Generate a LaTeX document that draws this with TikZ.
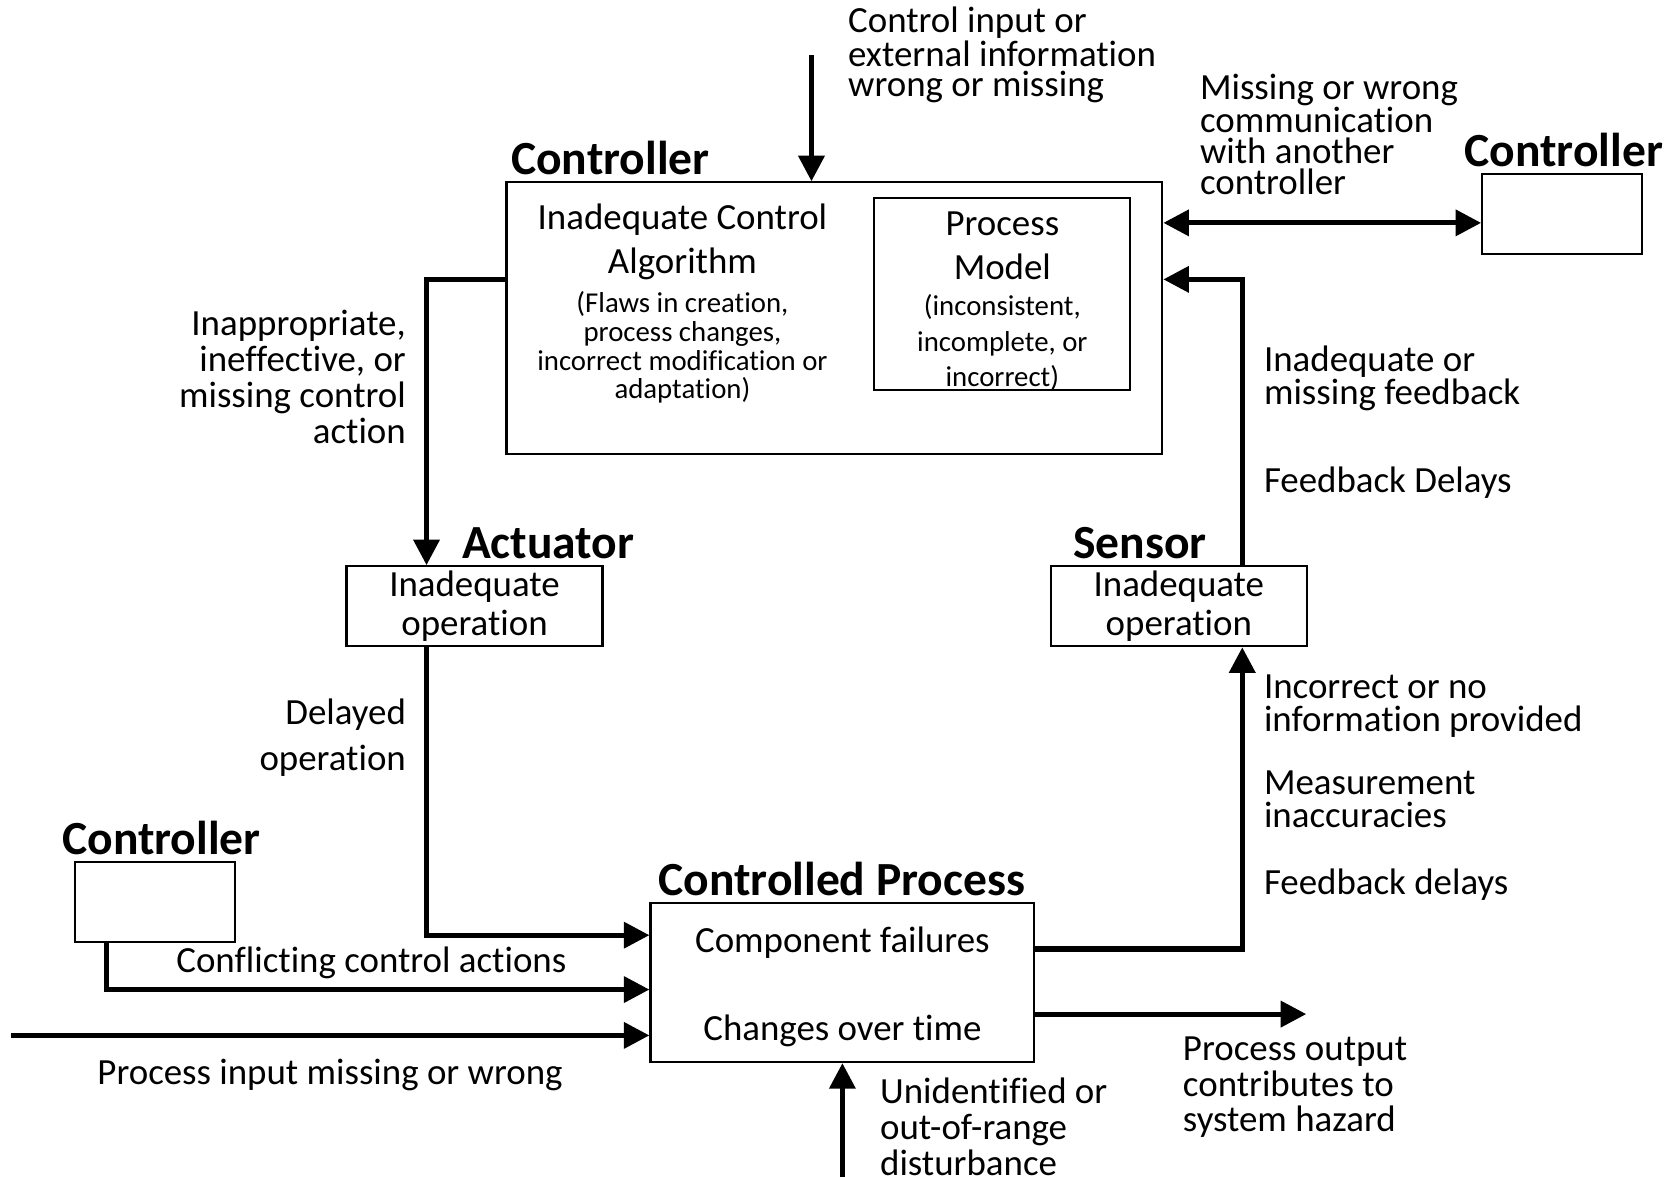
\documentclass[tikz,border=0pt]{standalone}
\usepackage{fontspec}
\setmainfont{Carlito}[Ligatures=NoCommon]
\usetikzlibrary{arrows.meta}
\begin{document}
\begin{tikzpicture}[x=0.5pt,y=-0.5pt,
  box/.style={draw, line width=1pt, inner sep=0pt},
  flow/.style={line width=2.4pt, -{Triangle[length=12pt,width=12pt]}},
  both/.style={line width=2.4pt, {Triangle[length=12pt,width=12pt]}-{Triangle[length=12pt,width=12pt]}},
  ttl/.style={inner sep=0pt, anchor=west, font=\bfseries\fontsize{22.3pt}{26pt}\selectfont},
  txt/.style={inner sep=0pt, yshift=-1.5pt, font=\fontsize{17.3pt}{#1}\selectfont},
  txt/.default=20.5pt,
  sml/.style={inner sep=0pt, yshift=-1pt, font=\fontsize{13.5pt}{#1}\selectfont},
  sml/.default=13.4pt,
]
\useasboundingbox (0,0) rectangle (1568,1103);

% ---- blocks ----
\node[box, minimum width=307.5pt, minimum height=127.5pt] (ctrl) at (782.5,298.5) {};
\node[box, minimum width=120pt, minimum height=90pt] (pm) at (940,276) {};
\node[box, minimum width=75pt, minimum height=37.5pt] (ctrlR) at (1465,200.5) {};
\node[box, minimum width=120pt, minimum height=37.5pt, align=center,
      font=\fontsize{17.3pt}{18.5pt}\selectfont] (act) at (445,568.5) {Inadequate\\operation};
\node[box, minimum width=120pt, minimum height=37.5pt, align=center,
      font=\fontsize{17.3pt}{18.5pt}\selectfont] (sen) at (1105.5,568.5) {Inadequate\\operation};
\node[box, minimum width=180pt, minimum height=74.5pt] (cp) at (790,921.5) {};
\node[box, minimum width=75pt, minimum height=37.5pt] (ctrlL) at (145,845.5) {};

% ---- block titles ----
\node[ttl] (tctrl) at (479,148) {Controller};
\node[ttl] (tctrlR) at (1373,141) {Controller};
\node[ttl] (tact) at (433,509) {Actuator};
\node[ttl] (tsen) at (1006,509) {Sensor};
\node[ttl] (tcp) at (617,824) {Controlled Process};
\node[ttl] (tctrlL) at (58,786) {Controller};

% ---- texts inside the controller ----
\node[txt=20.5pt, align=center] (alg) at (640,223.5) {Inadequate Control\\Algorithm};
\node[sml=13.4pt, align=center] (algn) at (640,324) {(Flaws in creation,\\process changes,\\incorrect modification or\\adaptation)};
\node[txt=20.5pt, align=center] (pmt) at (940,227.5) {Process\\Model};
\node[sml=16.5pt, align=center] (pmn) at (940,319.3) {(inconsistent,\\incomplete, or\\incorrect)};

% ---- texts inside the controlled process ----
\node[txt] (cf) at (790,881) {Component failures};
\node[txt] (ch) at (790,964) {Changes over time};

% ---- helper coordinates ----
\coordinate (topin) at (761,52);
\coordinate (y209) at (0,209);
\coordinate (y262) at (0,262);
\coordinate (xfb) at (1165,0);
\coordinate (xact) at (400,0);
\coordinate (xcon) at (100,0);
\coordinate (y877) at (0,877);
\coordinate (y928) at (0,928);
\coordinate (y971) at (0,971);
\coordinate (y890) at (0,890);
\coordinate (y951) at (0,951);
\coordinate (inp) at (10,971);
\coordinate (outp) at (1225,951);
\coordinate (dist) at (790,1110);

% ---- connectors ----
\draw[flow] (topin) -- (topin |- ctrl.north);
\draw[both] (ctrl.east |- y209) -- (ctrlR.west |- y209);
\draw[flow] (sen.north -| xfb) |- (ctrl.east |- y262);
\draw[flow] (ctrl.west |- y262) -| (act.north -| xact);
\draw[flow] (act.south -| xact) |- (cp.west |- y877);
\draw[flow] (ctrlL.south -| xcon) |- (cp.west |- y928);
\draw[flow] (inp) -- (cp.west |- y971);
\draw[flow] (cp.east |- y890) -| (sen.south -| xfb);
\draw[flow] (cp.east |- y951) -- (outp);
\draw[flow] (dist) -- (cp.south);

% ---- connector labels ----
\node[txt=14.25pt, anchor=west, align=left] (ltop) at (795,48.5) {Control input or\\external information\\wrong or missing};
\node[txt=14.5pt, anchor=west, align=left] (lcomm) at (1125,123) {Missing or wrong\\communication\\with another\\controller};
\node[txt=15.5pt, anchor=west, align=left] (lfb) at (1185,351.5) {Inadequate or\\missing feedback};
\node[txt, anchor=west] (lfbd) at (1185,450) {Feedback Delays};
\node[txt=16.9pt, anchor=east, align=right] (lca) at (381,350.5) {Inappropriate,\\ineffective, or\\missing control\\action};
\node[txt=21.5pt, anchor=east, align=right] (ldel) at (381,688.5) {Delayed\\operation};
\node[txt=15.5pt, anchor=west, align=left] (linc) at (1185,659.5) {Incorrect or no\\information provided};
\node[txt=15.5pt, anchor=west, align=left] (lmea) at (1185,746.5) {Measurement\\inaccuracies};
\node[txt, anchor=west] (lfd) at (1185,827) {Feedback delays};
\node[txt, anchor=west] (lcon) at (165,900) {Conflicting control actions};
\node[txt, anchor=west] (linp) at (91,1005) {Process input missing or wrong};
\node[txt=16.75pt, anchor=west, align=left] (lout) at (1109,1016.7) {Process output\\contributes to\\system hazard};
\node[txt=16.75pt, anchor=west, align=left] (ldis) at (825,1053.7) {Unidentified or\\out-of-range\\disturbance};
\end{tikzpicture}
\end{document}
